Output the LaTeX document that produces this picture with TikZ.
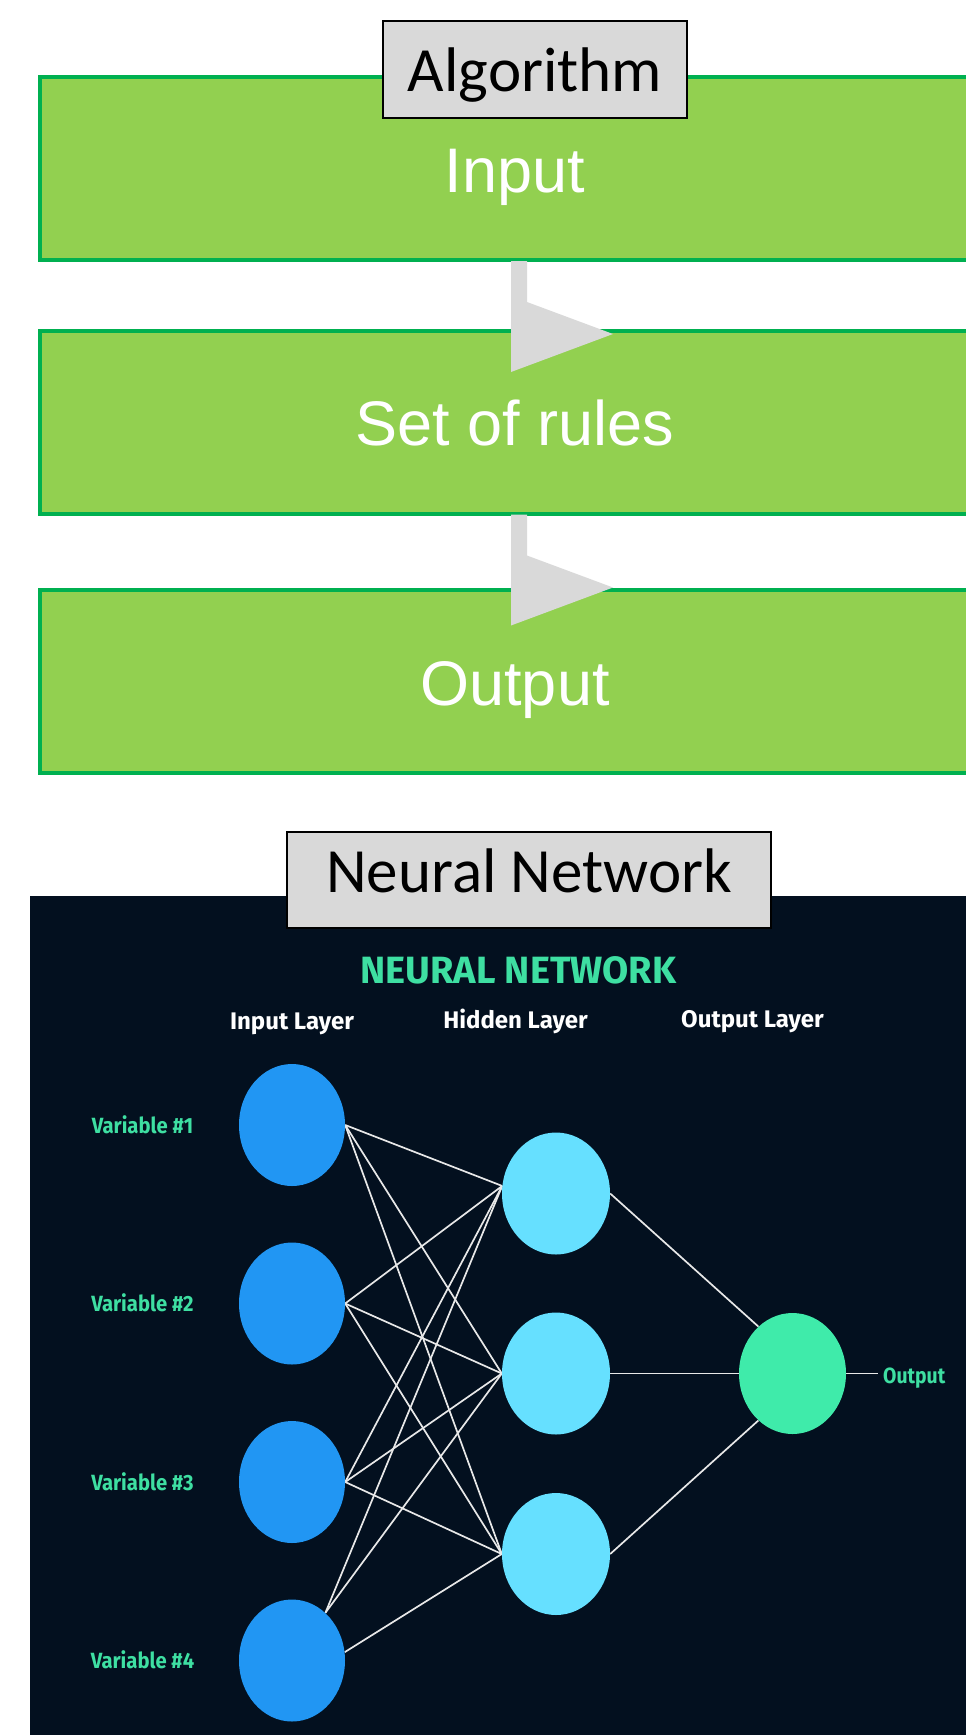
\documentclass[tikz,border=0pt]{standalone}
\usepackage{fontspec}
\setmainfont{Liberation Sans}
\newfontfamily\calibrifont{Carlito}
\newfontfamily\nnfont{Fira Sans}
\usetikzlibrary{shapes.geometric,calc}
\definecolor{boxgreen}{HTML}{92D050}
\definecolor{boxline}{HTML}{00B050}
\definecolor{labelgray}{HTML}{D9D9D9}
\definecolor{panelcol}{HTML}{03101F}
\definecolor{inblue}{HTML}{2196F3}
\definecolor{hidcyan}{HTML}{66E0FF}
\definecolor{outgreen}{HTML}{3FEBAA}
\definecolor{txtgreen}{HTML}{3EDFA2}
\definecolor{wirecol}{HTML}{E8E8E8}
\pgfdeclarelayer{bg}
\pgfdeclarelayer{wires}
\pgfsetlayers{bg,wires,main}
\newcommand\grayarrow[1]{\fill[labelgray] ($(#1.south)+(-4,1)$) -- ++(16,0) -- ++(0,41) -- ++(86,32) -- ++(-102,38) -- cycle;}
\newcommand\narrowtext[2]{\scalebox{#1}[1]{#2}}
\begin{document}
\begin{tikzpicture}[x=1pt,y=-1pt,
  gbox/.style={draw=boxline, fill=boxgreen, line width=4pt, outer sep=0pt,
    minimum width=950pt, inner sep=0pt, text height=115pt, text depth=68pt,
    text=white, font=\fontsize{63}{70}\selectfont},
  titlebox/.style={draw=black, fill=labelgray, line width=1.5pt, outer sep=0pt,
    inner sep=0pt, text=black, font=\calibrifont\fontsize{63}{70}\selectfont},
  nnlabel/.style={inner sep=0pt, text=white, font=\nnfont\bfseries\fontsize{24}{28}\selectfont},
  varlabel/.style={inner sep=0pt, text=txtgreen, font=\nnfont\bfseries\fontsize{22}{26}\selectfont},
  neuron/.style={ellipse, draw=none, inner sep=0pt, minimum width=106pt, minimum height=122pt},
  inode/.style={neuron, fill=inblue},
  hnode/.style={neuron, fill=hidcyan, minimum width=108pt},
  onode/.style={neuron, fill=outgreen, minimum width=107pt, minimum height=121pt},
  wire/.style={draw=wirecol, line width=1.7pt}
]
\useasboundingbox (0,0) rectangle (966,1735);
\clip (0,0) rectangle (966,1735);

% ---------- Algorithm part ----------
\node[gbox] (input) at (515,168.5) {Input};
\node[gbox] (rules) at (515,422) {Set of rules};
\node[gbox] (output) at (515,681.5) {Output};
\node[titlebox, minimum width=304pt, text height=70pt, text depth=27pt] (algo) at (535,69.5) {Algorithm\hspace{11pt}};
\grayarrow{input}
\grayarrow{rules}

% ---------- Neural network part ----------
\begin{pgfonlayer}{bg}
\fill[panelcol] (30,896) rectangle (990,1760);
\end{pgfonlayer}
\node[titlebox, minimum width=484pt, text height=60pt, text depth=36pt] (nnbox) at (529,880) {Neural Network\hspace{5pt}};

\node[inner sep=0pt, text=txtgreen, font=\nnfont\bfseries\fontsize{38}{44}\selectfont, anchor=base] (nntitle) at (518.5,983) {NEURAL NETWORK};
\node[nnlabel, anchor=base] (lin) at (292,1029) {Input Layer};
\node[nnlabel, anchor=base] (lhid) at (515.5,1028) {Hidden Layer};
\node[nnlabel, anchor=base] (lout) at (752.5,1027) {Output Layer};

\node[inode] (i1) at (292,1125) {};
\node[inode] (i2) at (292,1303.5) {};
\node[inode] (i3) at (292,1482) {};
\node[inode] (i4) at (292,1660.5) {};
\node[hnode] (h1) at (556,1193.5) {};
\node[hnode] (h2) at (556,1373.5) {};
\node[hnode] (h3) at (556,1554) {};
\node[onode] (o1) at (792.5,1373.5) {};
\coordinate (oend) at (878,1373.5);

\node[varlabel, anchor=base] (v1) at (142.5,1133) {\narrowtext{0.92}{Variable \#1}};
\node[varlabel, anchor=base] (v2) at (142.5,1311.5) {\narrowtext{0.92}{Variable \#2}};
\node[varlabel, anchor=base] (v3) at (142.5,1490) {\narrowtext{0.92}{Variable \#3}};
\node[varlabel, anchor=base] (v4) at (142.5,1668.5) {\narrowtext{0.92}{Variable \#4}};
\node[varlabel, anchor=base west] (outlbl) at (883,1383) {\narrowtext{0.88}{Output}};

\begin{pgfonlayer}{wires}
\foreach \i in {1,2,3} {
  \draw[wire] (i\i.east) -- (h1.172);
  \draw[wire] (i\i.east) -- (h2.west);
  \draw[wire] (i\i.east) -- (h3.west);
}
\draw[wire] (i4.55) -- (h1.172);
\draw[wire] (i4.55) -- (h2.west);
\draw[wire] (i4.9) -- (h3.west);
\draw[wire] (h1.east) -- (o1.126);
\draw[wire] (h2.east) -- (o1.west);
\draw[wire] (h3.east) -- (o1.234);
\draw[wire] (o1.east) -- (oend);
\end{pgfonlayer}
\end{tikzpicture}
\end{document}
